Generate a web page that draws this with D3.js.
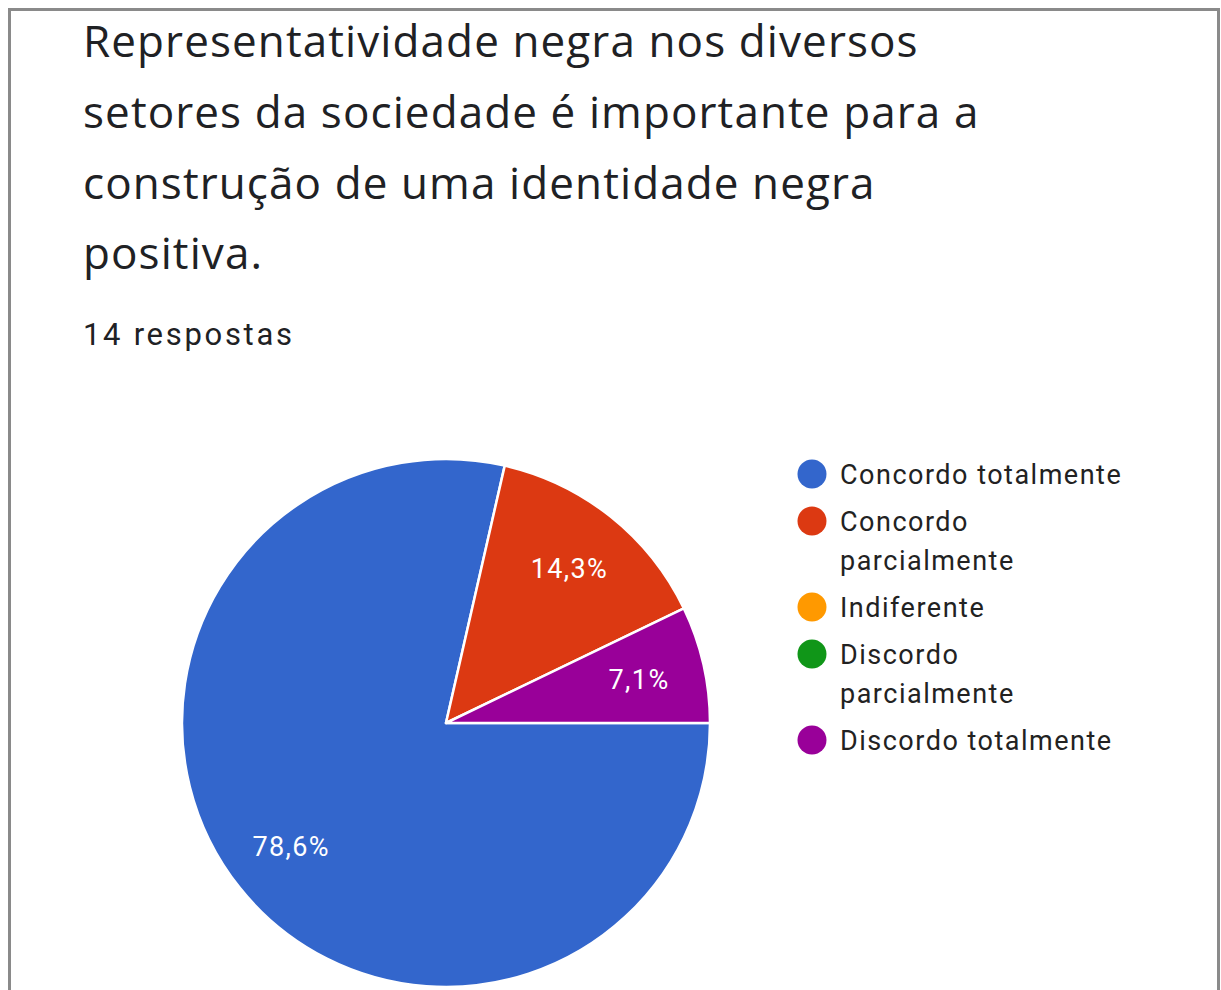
<!DOCTYPE html>
<html>
<head>
<meta charset="utf-8">
<script src="https://cdn.jsdelivr.net/npm/d3@7"></script>
<style>
  html, body { margin: 0; padding: 0; background: #fff; }
  svg { display: block; }
</style>
</head>
<body>
<svg id="chart" width="1221" height="990"></svg>
<script>
// Survey answers for the statement
const titleLines = [
  "Representatividade negra nos diversos",
  "setores da sociedade é importante para a",
  "construção de uma identidade negra",
  "positiva."
];
const responseCount = "14 respostas";
const categories = [
  "Concordo totalmente",
  "Concordo parcialmente",
  "Indiferente",
  "Discordo parcialmente",
  "Discordo totalmente"
];
const counts = [11, 2, 0, 0, 1];
const legendLines = [
  ["Concordo totalmente"],
  ["Concordo", "parcialmente"],
  ["Indiferente"],
  ["Discordo", "parcialmente"],
  ["Discordo totalmente"]
];
const colors = ["#3366cc", "#dc3912", "#ff9900", "#109618", "#990099"];

const svg = d3.select("#chart");
const font = "Roboto, 'Noto Sans', sans-serif";
const titleFont = "'Open Sans', Roboto, sans-serif";

// Card frame
svg.append("rect")
  .attr("x", 9.5).attr("y", 9.5)
  .attr("width", 1209).attr("height", 1100)
  .attr("fill", "#fff")
  .attr("stroke", "#8a8a8a")
  .attr("stroke-width", 3);

// Title
const title = svg.append("g").attr("font-family", titleFont).attr("fill", "#202124");
title.selectAll("text")
  .data(titleLines)
  .join("text")
  .attr("x", 83)
  .attr("y", (d, i) => 57 + i * 70.8)
  .attr("font-size", 44)
  .attr("letter-spacing", 1.1)
  .text(d => d);

svg.append("text")
  .attr("x", 83).attr("y", 345)
  .attr("font-family", font)
  .attr("font-size", 31)
  .attr("letter-spacing", 2.7)
  .attr("fill", "#202124")
  .text(responseCount);

// Pie
const cx = 446, cy = 723, R = 264;
const total = d3.sum(counts);
const color = d3.scaleOrdinal().domain(categories).range(colors);
const pie = d3.pie()
  .sort(null)
  .value(d => d.value)
  .startAngle(Math.PI / 2)
  .endAngle(Math.PI / 2 + 2 * Math.PI);
const data = categories.map((c, i) => ({ name: c, value: counts[i] }));
const arcs = pie(data).filter(d => d.data.value > 0);
const arc = d3.arc().innerRadius(0).outerRadius(R);
const labelArc = d3.arc().innerRadius(R * 0.75).outerRadius(R * 0.75);

const g = svg.append("g").attr("transform", `translate(${cx},${cy})`);
g.selectAll("path")
  .data(arcs)
  .join("path")
  .attr("d", arc)
  .attr("fill", d => color(d.data.name))
  .attr("stroke", "#fff")
  .attr("stroke-width", 2.5)
  .attr("stroke-linejoin", "round");

const fmt = v => (Math.round(v / total * 1000) / 10).toFixed(1).replace(".", ",") + "%";
g.selectAll("text")
  .data(arcs)
  .join("text")
  .attr("transform", d => `translate(${labelArc.centroid(d)})`)
  .attr("text-anchor", "middle")
  .attr("dy", "0.36em")
  .attr("font-family", font)
  .attr("font-size", 27)
  .attr("letter-spacing", 1.4)
  .attr("fill", "#fff")
  .text(d => fmt(d.data.value));

// Legend
const legend = svg.append("g").attr("font-family", font);
let ly = 474;
legendLines.forEach((lines, i) => {
  const item = legend.append("g");
  item.append("circle")
    .attr("cx", 812).attr("cy", ly)
    .attr("r", 14.5)
    .attr("fill", color(categories[i]));
  item.selectAll("text")
    .data(lines)
    .join("text")
    .attr("x", 840)
    .attr("y", (d, j) => ly + 10 + j * 39)
    .attr("font-size", 27)
    .attr("letter-spacing", 1.5)
    .attr("fill", "#222")
    .text(d => d);
  ly += 47 + (lines.length - 1) * 39;
});
</script>
</body>
</html>
